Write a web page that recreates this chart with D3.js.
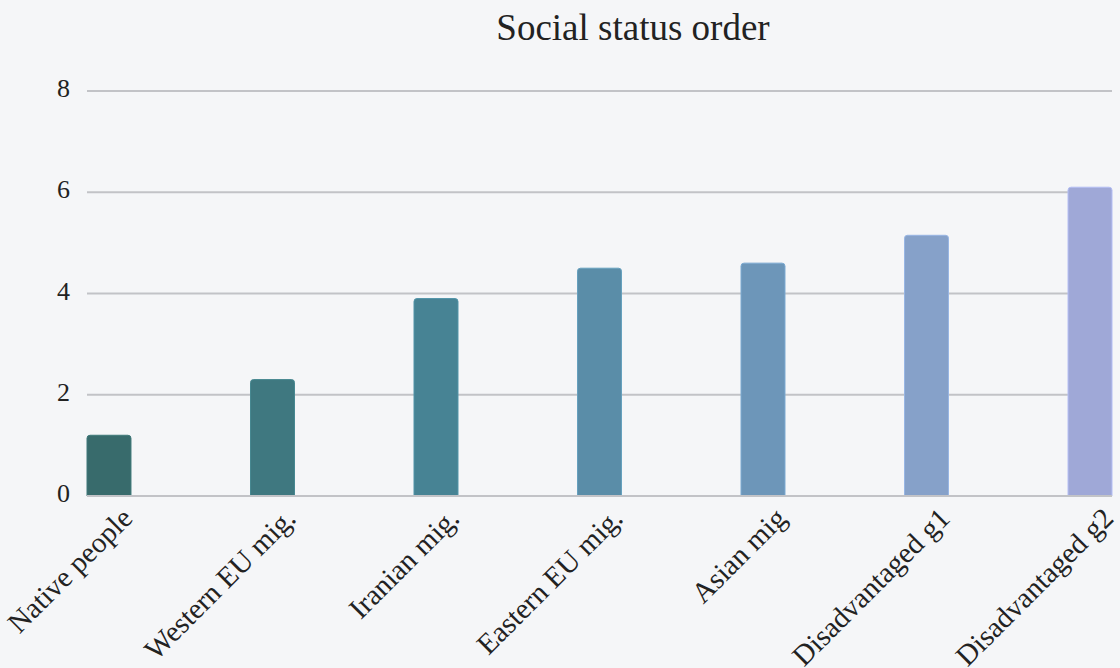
<!DOCTYPE html>
<html>
<head>
<meta charset="utf-8">
<script src="https://cdn.jsdelivr.net/npm/d3@7"></script>
<style>
  html, body { margin: 0; padding: 0; background: #f5f6f8; }
  svg { display: block; }
  text { font-family: "Liberation Serif", "Times New Roman", serif; fill: #222; }
</style>
</head>
<body>
<svg id="chart" width="1120" height="668"></svg>
<script>
// Groups ranked by perceived social status
const categories = ["Native people", "Western EU mig.", "Iranian mig.", "Eastern EU mig.", "Asian mig", "Disadvantaged g1", "Disadvantaged g2"];
const values = [1.2, 2.3, 3.9, 4.5, 4.6, 5.15, 6.1];
const barColors = ["#386b6c", "#3f7880", "#478394", "#5a8da8", "#6d96b9", "#86a1c9", "#9fa8d7"];
const yTicks = [0, 2, 4, 6, 8];
const titleText = "Social status order";

const svg = d3.select("#chart");
const W = 1120, H = 668;
const plot = { left: 87, right: 1112, top: 91, bottom: 496 };

svg.append("rect").attr("width", W).attr("height", H).attr("fill", "#f5f6f8");

const x = d3.scaleBand()
  .domain(categories)
  .range([plot.left, plot.right])
  .paddingInner(0.731)
  .paddingOuter(0);

const y = d3.scaleLinear().domain([0, 8]).range([plot.bottom, plot.top]);

// Horizontal grid
svg.append("g")
  .selectAll("line")
  .data(yTicks)
  .join("line")
  .attr("x1", plot.left)
  .attr("x2", plot.right)
  .attr("y1", d => y(d))
  .attr("y2", d => y(d))
  .attr("stroke", "#c2c3c7")
  .attr("stroke-width", 2);

// Y tick labels
const yAxis = d3.axisLeft(y).tickValues(yTicks).tickSize(0).tickPadding(17);
const yG = svg.append("g").attr("transform", `translate(${plot.left},0)`).call(yAxis);
yG.select(".domain").remove();
yG.selectAll("text")
  .attr("font-family", "Liberation Serif, serif")
  .attr("font-size", 26)
  .attr("fill", "#222")
  .attr("dy", "0.22em");

// Bars with rounded top corners
function barPath(x0, w, yTop, yBase, r) {
  r = Math.min(r, (yBase - yTop) / 2, w / 2);
  return `M${x0},${yBase}V${yTop + r}Q${x0},${yTop} ${x0 + r},${yTop}` +
         `H${x0 + w - r}Q${x0 + w},${yTop} ${x0 + w},${yTop + r}V${yBase}Z`;
}

svg.append("g")
  .selectAll("path")
  .data(categories)
  .join("path")
  .attr("d", (c, i) => barPath(x(c), x.bandwidth(), y(values[i]), y(0), 3))
  .attr("fill", (c, i) => barColors[i])
  .attr("stroke", (c, i) => d3.color(barColors[i]).brighter(0.35))
  .attr("stroke-width", 1);

// Baseline
svg.append("line")
  .attr("x1", plot.left).attr("x2", plot.right)
  .attr("y1", y(0)).attr("y2", y(0))
  .attr("stroke", "#c2c3c7").attr("stroke-width", 2);

// Rotated category labels
svg.append("g")
  .selectAll("text")
  .data(categories)
  .join("text")
  .attr("transform", c => `translate(${x(c) + x.bandwidth() / 2 + 25},${plot.bottom + 24}) rotate(-45)`)
  .attr("text-anchor", "end")
  .attr("font-size", 29)
  .text(c => c);

// Title
svg.append("text")
  .attr("x", 633)
  .attr("y", 40)
  .attr("text-anchor", "middle")
  .attr("font-size", 37)
  .text(titleText);
</script>
</body>
</html>
